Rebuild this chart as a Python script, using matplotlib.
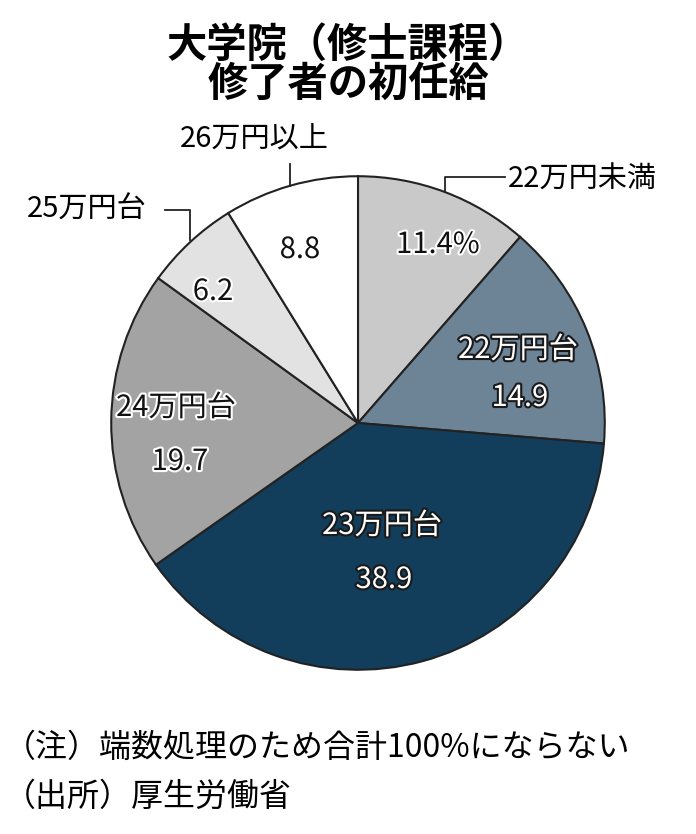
import matplotlib
matplotlib.use("Agg")
import matplotlib.pyplot as plt
import matplotlib.patheffects as pe
from matplotlib.lines import Line2D

plt.rcParams['font.family'] = ['Noto Sans CJK JP', 'DejaVu Sans']

categories = ["22万円未満", "22万円台", "23万円台", "24万円台", "25万円台", "26万円以上"]
values = [11.4, 14.9, 38.9, 19.7, 6.2, 8.8]
value_labels = ["11.4%", "14.9", "38.9", "19.7", "6.2", "8.8"]
colors = ["#c9c9c9", "#6d8497", "#123d5b", "#a3a3a3", "#e2e2e2", "#ffffff"]

W, H = 696, 834
fig = plt.figure(figsize=(W/100, H/100), dpi=100)
fig.patch.set_facecolor("white")

def px(x, y):
    return x / W, 1 - y / H

cx, cy, r = 358, 423, 248
ax = fig.add_axes([(cx - r)/W, 1 - (cy + r)/H, 2*r/W, 2*r/H])
wedges, _ = ax.pie(values, colors=colors, startangle=90, counterclock=False,
                   wedgeprops=dict(edgecolor="#222222", linewidth=1.5))
ax.set_xlim(-1.005, 1.005)
ax.set_ylim(-1.005, 1.005)
ax.set_aspect("equal")

white_fx = [pe.withStroke(linewidth=3, foreground="white")]
dark_fx = [pe.withStroke(linewidth=3, foreground="#1a1a1a")]

inside = [
    (438, 245, value_labels[0], False),
    (518, 350, categories[1], True),
    (520, 398, value_labels[1], True),
    (382, 526, categories[2], True),
    (384, 580, value_labels[2], True),
    (176, 408, categories[3], False),
    (180, 462, value_labels[3], False),
    (213, 292, value_labels[4], False),
    (300, 250, value_labels[5], False),
]
for x, y, t, dark in inside:
    fig.text(*px(x, y), t, ha="center", va="center", fontsize=21,
             color="white" if dark else "#111111",
             path_effects=dark_fx if dark else white_fx)

fig.text(*px(582, 180), categories[0], ha="center", va="center", fontsize=21)
fig.text(*px(254, 140), categories[5], ha="center", va="center", fontsize=21)
fig.text(*px(87, 210), categories[4], ha="center", va="center", fontsize=21)

def line(xs, ys):
    fig.add_artist(Line2D([x/W for x in xs], [1 - y/H for y in ys],
                          color="#222222", linewidth=1.3))
line([445, 445, 505], [192, 177, 177])
line([290, 290], [164, 186])
line([165, 190, 190], [210, 210, 240])

fig.text(*px(348, 45), "大学院（修士課程）", ha="center", va="center",
         fontsize=29, fontweight="bold")
fig.text(*px(348, 84), "修了者の初任給", ha="center", va="center",
         fontsize=29, fontweight="bold")

fig.text(*px(4, 748), "（注）端数処理のため合計100%にならない", ha="left",
         va="center", fontsize=23)
fig.text(*px(4, 797), "（出所）厚生労働省", ha="left", va="center", fontsize=23)

fig.savefig("out.png", dpi=100, facecolor="white")
